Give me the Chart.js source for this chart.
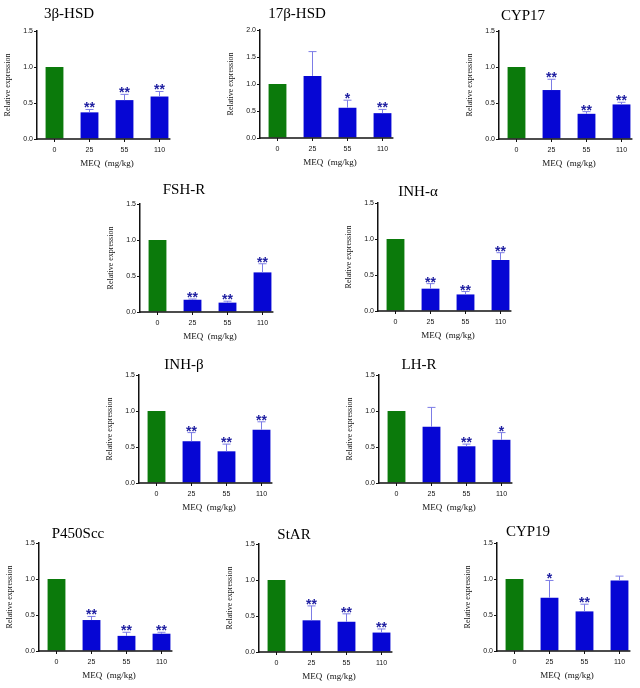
<!DOCTYPE html>
<html>
  <head>
    <meta charset="utf-8" />
    <title>MEQ gene expression</title>
    <script src="https://cdn.jsdelivr.net/npm/chart.js"></script>
    <style>
      body {
        margin: 0;
        background: #ffffff;
      }
      .page {
        position: relative;
        width: 640px;
        height: 688px;
      }
      .page canvas {
        position: absolute;
      }
    </style>
  </head>
  <body>
    <div class="page" id="page"></div>

    <script>
      // data
      var genes = ["3β-HSD", "17β-HSD", "CYP17", "FSH-R", "INH-α", "INH-β", "LH-R", "P450Scc", "StAR", "CYP19"];
      var doses = ["0", "25", "55", "110"];
      var yMax = [1.5, 2.0, 1.5, 1.5, 1.5, 1.5, 1.5, 1.5, 1.5, 1.5];
      var expression = [
        [1.0, 0.37, 0.54, 0.59],
        [1.0, 1.15, 0.56, 0.46],
        [1.0, 0.68, 0.35, 0.48],
        [1.0, 0.17, 0.13, 0.55],
        [1.0, 0.31, 0.23, 0.71],
        [1.0, 0.58, 0.44, 0.74],
        [1.0, 0.78, 0.51, 0.6],
        [1.0, 0.43, 0.21, 0.24],
        [1.0, 0.44, 0.42, 0.27],
        [1.0, 0.74, 0.55, 0.98],
      ];
      var errorUp = [
        [0, 0.04, 0.08, 0.07],
        [0, 0.45, 0.14, 0.07],
        [0, 0.15, 0.03, 0.03],
        [0, 0.01, 0.02, 0.12],
        [0, 0.07, 0.04, 0.1],
        [0, 0.12, 0.1, 0.11],
        [0, 0.27, 0.03, 0.1],
        [0, 0.05, 0.05, 0.02],
        [0, 0.2, 0.11, 0.05],
        [0, 0.24, 0.1, 0.06],
      ];
      var significance = [
        ["", "**", "**", "**"],
        ["", "", "*", "**"],
        ["", "**", "**", "**"],
        ["", "**", "**", "**"],
        ["", "**", "**", "**"],
        ["", "**", "**", "**"],
        ["", "", "**", "*"],
        ["", "**", "**", "**"],
        ["", "**", "**", "**"],
        ["", "*", "**", ""],
      ];

      // where each panel sits on the page
      var panels = [
        { left: 3, top: 1, dx: 32, dy: 18 },
        { left: 226, top: 0, dx: 37, dy: 17 },
        { left: 465, top: 1, dx: 24, dy: 16 },
        { left: 106, top: 174, dx: 44, dy: 15 },
        { left: 344, top: 173, dx: 40, dy: 12 },
        { left: 105, top: 345, dx: 45, dy: 11 },
        { left: 345, top: 345, dx: 40, dy: 11 },
        { left: 5, top: 513, dx: 39, dy: 10 },
        { left: 225, top: 514, dx: 35, dy: 10 },
        { left: 463, top: 513, dx: 31, dy: 12 },
      ];

      var green = "#0b7a0b";
      var blue = "#0606d4";
      var errColor = "#7c7ce6";
      var starColor = "#1e1ea0";
      var serif = "'Times New Roman', 'Liberation Serif', serif";
      var sans = "Arial, 'Liberation Sans', sans-serif";

      function panelDecor(i) {
        return {
          id: "panelDecor",
          afterDatasetsDraw: function (chart) {
            var ctx = chart.ctx;
            var y = chart.scales.y;
            var area = chart.chartArea;
            var bars = chart.getDatasetMeta(0).data;
            ctx.save();
            bars.forEach(function (bar, j) {
              var err = errorUp[i][j];
              var top = y.getPixelForValue(expression[i][j] + err);
              if (err > 0) {
                ctx.strokeStyle = errColor;
                ctx.lineWidth = 1;
                ctx.beginPath();
                ctx.moveTo(bar.x, bar.y);
                ctx.lineTo(bar.x, top);
                ctx.moveTo(bar.x - 4, top);
                ctx.lineTo(bar.x + 4, top);
                ctx.stroke();
              }
              if (significance[i][j]) {
                ctx.fillStyle = starColor;
                ctx.font = "bold 14px " + sans;
                ctx.textAlign = "center";
                ctx.textBaseline = "alphabetic";
                ctx.fillText(significance[i][j], bar.x, top + 3);
              }
            });

            // x axis line stops just after the last bar
            var last = bars[bars.length - 1];
            ctx.strokeStyle = "#111";
            ctx.lineWidth = 1.5;
            ctx.beginPath();
            ctx.moveTo(area.left, area.bottom);
            ctx.lineTo(last.x + last.width / 2 + 2, area.bottom);
            ctx.stroke();

            // panel title
            ctx.fillStyle = "#000";
            ctx.font = "15px " + serif;
            ctx.textAlign = "center";
            ctx.textBaseline = "middle";
            ctx.fillText(genes[i], area.left + panels[i].dx, area.top - panels[i].dy + 1);
            ctx.restore();
          },
        };
      }

      var page = document.getElementById("page");

      genes.forEach(function (gene, i) {
        var canvas = document.createElement("canvas");
        canvas.width = 178;
        canvas.height = 168;
        canvas.style.left = panels[i].left + "px";
        canvas.style.top = panels[i].top + "px";
        page.appendChild(canvas);

        new Chart(canvas, {
          type: "bar",
          data: {
            labels: doses,
            datasets: [
              {
                data: expression[i],
                backgroundColor: doses.map(function (d, j) {
                  return j === 0 ? green : blue;
                }),
                borderWidth: 0,
                barPercentage: 0.51,
                categoryPercentage: 1,
              },
            ],
          },
          options: {
            responsive: false,
            animation: false,
            layout: { padding: { top: 30, right: 4, left: 0, bottom: 0 } },
            plugins: {
              legend: { display: false },
              tooltip: { enabled: false },
            },
            scales: {
              x: {
                offset: true,
                afterFit: function (s) {
                  s.height = 30;
                },
                grid: {
                  offset: false,
                  drawOnChartArea: false,
                  drawTicks: true,
                  tickLength: 3,
                  color: "#111",
                },
                border: { display: false },
                ticks: {
                  padding: 4,
                  color: "#111",
                  font: { size: 7, family: sans },
                },
                title: {
                  display: true,
                  text: "MEQ  (mg/kg)",
                  color: "#111",
                  padding: 0,
                  font: { size: 9, family: serif },
                },
              },
              y: {
                min: 0,
                max: yMax[i],
                afterFit: function (s) {
                  s.width = 34;
                },
                grid: {
                  drawOnChartArea: false,
                  drawTicks: true,
                  tickLength: 3,
                  color: "#111",
                },
                border: { display: true, color: "#111", width: 1.5 },
                ticks: {
                  stepSize: 0.5,
                  padding: 1,
                  color: "#111",
                  font: { size: 7, family: sans },
                  callback: function (v) {
                    return v.toFixed(1);
                  },
                },
                title: {
                  display: true,
                  text: "Relative expression",
                  color: "#111",
                  padding: 0,
                  font: { size: 8, family: serif },
                },
              },
            },
          },
          plugins: [panelDecor(i)],
        });
      });
    </script>
  </body>
</html>
